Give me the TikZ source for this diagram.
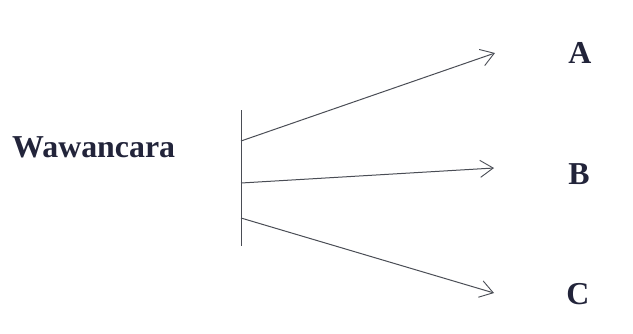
\documentclass[tikz,border=0pt]{standalone}
\usepackage{fontspec}
\setmainfont{Liberation Serif}
\usetikzlibrary{arrows.meta}
\definecolor{ink}{HTML}{22243A}
\definecolor{wire}{HTML}{4A4D55}
\begin{document}
\begin{tikzpicture}[x=1bp,y=-1bp,
  label/.style={
    anchor=base,
    inner sep=0pt,
    text=ink,
    font=\fontsize{32}{32}\selectfont\bfseries
  },
  branch/.style={
    draw=wire,
    line width=1bp,
    -{Straight Barb[length=13bp,width=17bp,line width=0.9bp]}
  }
]
\useasboundingbox (0,0) rectangle (633,333);
\node[label,anchor=base west] (wawancara) at (12,157) {Wawancara};
\node[label] (a) at (580,63) {A};
\node[label] (b) at (579,184) {B};
\node[label] (c) at (578,304) {C};
% the bar and the points the arrows leave from / point to
  \coordinate (bartop) at (241,110);
  \coordinate (barbot) at (241,246);
  \coordinate (fromA) at (241,141);
  \coordinate (fromB) at (241,183);
  \coordinate (fromC) at (241,218);
  \coordinate (toA) at (495,53);
  \coordinate (toB) at (494,168);
  \coordinate (toC) at (494,293);
  \draw[wire,line width=1bp] (bartop)--(barbot);
  \draw[branch] (fromA)--(toA);
  \draw[branch] (fromB)--(toB);
  \draw[branch] (fromC)--(toC);
\end{tikzpicture}
\end{document}
